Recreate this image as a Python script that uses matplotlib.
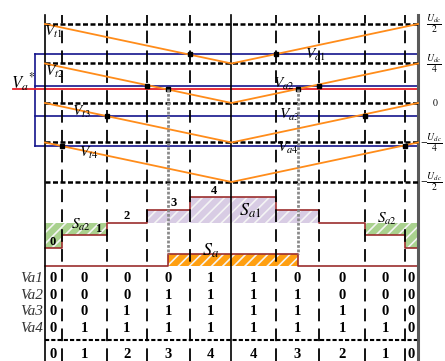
import numpy as np
import matplotlib
matplotlib.use("Agg")
from matplotlib import pyplot as plt

plt.rcParams["font.family"] = "serif"
plt.rcParams["font.serif"] = ["Liberation Serif", "DejaVu Serif"]
plt.rcParams["mathtext.fontset"] = "stix"
plt.rcParams["hatch.linewidth"] = 1.2

# voltage levels (in Ud) and their labels
levels = [0.5, 0.25, 0.0, -0.25, -0.5]
level_labels = [
    r"$\dfrac{U_{dc}}{2}$",
    r"$\dfrac{U_{dc}}{4}$",
    r"$0$",
    r"$-\dfrac{U_{dc}}{4}$",
    r"$-\dfrac{U_{dc}}{2}$",
]

# triangular carriers: top of each band, depth of the band
carrier_top = [0.5, 0.25, 0.0, -0.25]
carrier_depth = 0.25
carrier_names = [r"$V_{t1}$", r"$V_{t2}$", r"$V_{t3}$", r"$V_{t4}$"]

# comparison levels Va1..Va4 and the crossing times (period = 2)
va_levels = [0.31, 0.11, -0.08, -0.27]
va_names = [r"$V_{a1}$", r"$V_{a2}$", r"$V_{a3}$", r"$V_{a4}$"]
t_on = [0.777, 0.547, 0.332, 0.091]
t_off = [1.239, 1.469, 1.716, 1.930]

# reference voltage and the resulting Sa pulse
va_star = 0.089
sa_on, sa_off = 0.66, 1.357

# switching states per column
row_names = ["Va1", "Va2", "Va3", "Va4"]
Va1 = [0, 0, 0, 0, 1, 1, 0, 0, 0, 0]
Va2 = [0, 0, 0, 1, 1, 1, 1, 0, 0, 0]
Va3 = [0, 0, 1, 1, 1, 1, 1, 1, 0, 0]
Va4 = [0, 1, 1, 1, 1, 1, 1, 1, 1, 0]

# layout (data units)
Y_TOP = 0.557
STAIR_BASE = -0.918
STAIR_STEP = 0.0807
SA_LOW, SA_HIGH = -1.032, -0.956
ROW_Y0, ROW_GAP = -1.111, 0.1045
SEP_Y = -1.5
SUM_Y = -1.592
X_BLUE, X_RED = -0.054, -0.171
Y_BOT = -1.633

ORANGE = "#ff8c1a"
BLUE = "#14148c"
RED = "#e8202a"
BROWN = "#9b2d2d"
GREEN = "#a9d18e"
PURPLE = "#d8cce4"
GOLD = "#ff9f10"


def main():
    fig = plt.figure(figsize=(4.45, 3.61), dpi=100)
    ax = fig.add_axes([0, 0, 1, 1])
    ax.set_xlim(-45 / 186.5, 400 / 186.5)
    ax.set_ylim(Y_BOT, 103 / 158)
    ax.axis("off")

    # vertical lines
    for t in (0, 1):
        ax.plot([t, t], [Y_BOT, Y_TOP], color="k", lw=1.2, zorder=3)
    ax.plot([2, 2], [Y_BOT, Y_TOP], color="#5a5a5a", lw=2.2, zorder=3)
    for t in t_on + t_off:
        ax.plot([t, t], [Y_BOT, Y_TOP], color="k", lw=1.3, dashes=(7, 4), zorder=3)

    # level lines
    for v in levels:
        ax.plot([0, 2], [v, v], color="k", lw=1.8, dashes=(2, 1), zorder=4)
    for v, lab in zip(levels, level_labels):
        if v > 0:
            x = 2.045
        elif v == 0:
            x = 2.075
        else:
            x = 2.013
        ax.text(x, v, lab, fontsize=7, ha="left", va="center")

    # comparison levels
    for v in va_levels:
        ax.plot([X_BLUE, 2], [v, v], color=BLUE, lw=1.2, zorder=2)
    ax.plot([X_BLUE, X_BLUE], [va_levels[0], va_levels[-1]], color=BLUE, lw=1.2)
    ax.plot([X_RED, 2], [va_star, va_star], color=RED, lw=1.3, zorder=2)
    ax.text(-0.118, 0.13, r"$V_a{}^{*}$", fontsize=12, ha="center", va="center")

    # carriers
    for top in carrier_top:
        ax.plot([0, 1, 2], [top, top - carrier_depth, top], color=ORANGE, lw=1.3, zorder=5)
    for name, (x, y) in zip(carrier_names, [(0.045, 0.449), (0.05, 0.196), (0.193, -0.057), (0.236, -0.316)]):
        ax.text(x, y, name, fontsize=11, ha="center", va="center", zorder=6)
    for name, (x, y) in zip(va_names, [(1.448, 0.304), (1.281, 0.120), (1.314, -0.076), (1.303, -0.285)]):
        ax.text(x, y, name, fontsize=11, ha="center", va="center", zorder=6)

    # crossing dots
    ax.plot(t_on + t_off, va_levels + va_levels, "s", color="k", ms=2.5, zorder=6)
    ax.plot([sa_on, sa_off], [va_star, va_star], "s", color="k", ms=2.5, zorder=6)
    for t in (sa_on, sa_off):
        ax.plot([t, t], [va_star, SA_HIGH], color="#8a8a8a", lw=2, ls=(0, (1, 0.6)), zorder=6)

    # staircase from the state table
    states = np.array([Va1, Va2, Va3, Va4])
    stair = states.sum(axis=0)
    col_edges = sorted([0, 1, 2] + t_on + t_off)
    stair_y = STAIR_BASE + stair * STAIR_STEP
    mid_y = STAIR_BASE + 2 * STAIR_STEP

    for i, s in enumerate(stair):
        if s == 2:
            continue
        color = GREEN if s < 2 else PURPLE
        ax.fill_between([col_edges[i], col_edges[i + 1]], stair_y[i], mid_y,
                        facecolor=color, edgecolor="#f4f4f4", hatch="///", lw=0, zorder=1)
    ax.fill_between([sa_on, sa_off], SA_LOW, SA_HIGH, facecolor=GOLD,
                    edgecolor="#f4f4f4", hatch="///", lw=0, zorder=1)

    ax.step(col_edges, list(stair_y) + [stair_y[-1]], where="post", color=BROWN, lw=1.2, zorder=2)
    ax.plot([0, sa_on, sa_on, sa_off, sa_off, 2],
            [SA_LOW, SA_LOW, SA_HIGH, SA_HIGH, SA_LOW, SA_LOW], color=BROWN, lw=1.2, zorder=2)

    for k, x in enumerate([0.043, 0.284, 0.44, 0.692, 0.906]):
        ax.text(x, STAIR_BASE + k * STAIR_STEP + 0.04, str(k), fontsize=9,
                fontweight="bold", ha="center", va="center", zorder=6)

    ax.text(0.193, -0.772, r"$S_{a2}$", fontsize=11, ha="center", va="center", zorder=6)
    ax.text(1.099, -0.684, r"$S_{a1}$", fontsize=13, ha="center", va="center", zorder=6)
    ax.text(0.885, -0.937, r"$S_a$", fontsize=13, ha="center", va="center", zorder=6)
    ax.text(1.834, -0.734, r"$S_{a2}$", fontsize=11, ha="center", va="center", zorder=6)

    # state table
    centers = [(a + b) / 2 for a, b in zip(col_edges[:-1], col_edges[1:])]
    for i, (name, row) in enumerate(zip(row_names, states)):
        y = ROW_Y0 - i * ROW_GAP
        ax.text(-0.008, y, name, fontsize=11, style="italic", color="#333333",
                ha="right", va="center")
        for x, s in zip(centers, row):
            ax.text(x, y, str(s), fontsize=10.5, fontweight="bold", ha="center", va="center")
    ax.plot([0, 2], [SEP_Y, SEP_Y], color="k", lw=1.5, dashes=(2, 1))
    for x, s in zip(centers, stair):
        ax.text(x, SUM_Y, str(s), fontsize=10.5, fontweight="bold", ha="center", va="center")

    fig.savefig("out.png", dpi=100)


if __name__ == "__main__":
    main()
